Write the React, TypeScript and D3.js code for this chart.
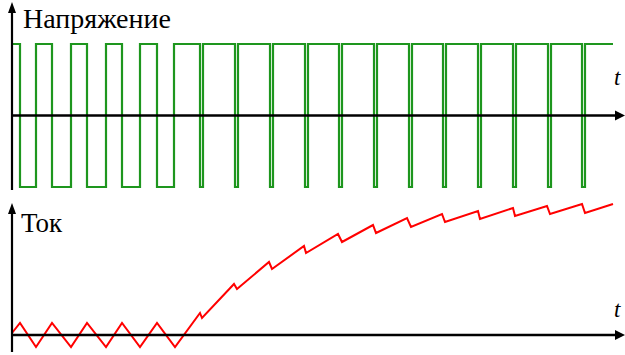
import React, { useEffect, useState } from "react";
import * as d3 from "d3";

// Voltage: square-wave switching times (arbitrary time units) and levels (+1 / -1)
const voltageTimes = [0, 8, 24, 40, 59, 75, 94, 110, 128, 145, 162, 188, 191, 223, 226, 258, 261, 293, 296, 327, 330, 362, 365, 397, 400, 431, 434, 466, 469, 501, 504, 536, 539, 570, 573, 601];
const voltageLevels = [1, -1, 1, -1, 1, -1, 1, -1, 1, -1, 1, -1, 1, -1, 1, -1, 1, -1, 1, -1, 1, -1, 1, -1, 1, -1, 1, -1, 1, -1, 1, -1, 1, -1, 1, 1];

// Current: piecewise-linear samples
const currentTimes = [0, 8, 24, 40, 59, 75, 94, 110, 128, 145, 163, 188, 190, 222, 225, 257, 260, 292, 294, 326, 330, 361, 364, 395, 399, 430, 433, 466, 468, 501, 503, 535, 538, 570, 573, 601];
const currentValues = [2, 12, -12, 12, -12, 12, -12, 12, -12, 12, -12, 22, 17, 51, 46, 73, 66, 89, 82, 101, 93, 110, 102, 117, 108, 121, 113, 124, 116, 127, 119, 129, 121, 131, 122, 131];

const titles = ["Напряжение", "Ток"];
const axisLabel = "t";

const serif = `"Liberation Serif", "Times New Roman", Tinos, "DejaVu Serif", serif`;

export default function App() {
  const [ver, setVer] = useState(0);
  useEffect(() => {
    const fs: any = (document as any).fonts;
    if (fs && fs.load) {
      Promise.all([
        fs.load(`28px "Liberation Serif"`, "Напряжение Ток"),
        fs.load(`italic 23px "Liberation Serif"`, "t"),
      ]).then(() => setVer(v => v + 1)).catch(() => setVer(v => v + 1));
    }
  }, []);

  const W = 625, H = 355;
  const x = d3.scaleLinear().domain([0, 613]).range([12, 625]);
  const yV = d3.scaleLinear().domain([-1, 1]).range([187, 44]);
  const yI = d3.scaleLinear().domain([-15, 132]).range([350, 203]);

  const vData = voltageTimes.map((t, i) => [t, voltageLevels[i]] as [number, number]);
  const iData = currentTimes.map((t, i) => [t, currentValues[i]] as [number, number]);

  const vLine = d3.line<[number, number]>().x(d => x(d[0])).y(d => yV(d[1])).curve(d3.curveStepAfter);
  const iLine = d3.line<[number, number]>().x(d => x(d[0])).y(d => yI(d[1]));

  const axisX0 = x(0);
  const yV0 = yV(0);
  const yI0 = yI(0);

  const t1Style = { fontFamily: serif, fontSize: "28px" };
  const t2Style = { fontFamily: serif, fontSize: "27px" };
  const tStyle = { fontFamily: serif, fontSize: "23px", fontStyle: "italic" as const };

  return (
    <div style={{ position: "absolute", left: 0, top: 0 }}>
      <svg key={ver} width={W} height={H} style={{ display: "block", background: "#fff" }}>
        {/* top panel */}
        <path d={vLine(vData) || ""} fill="none" stroke="#1e961e" strokeWidth={2.2} />
        <line x1={axisX0} y1={yV0} x2={616} y2={yV0} stroke="#000" strokeWidth={2.5} />
        <path d={`M625,${yV0} L615,${yV0 - 5} L615,${yV0 + 5} Z`} fill="#000" />
        <line x1={axisX0} y1={190} x2={axisX0} y2={10} stroke="#000" strokeWidth={2.2} />
        <path d={`M${axisX0},2 L${axisX0 - 4},13 L${axisX0 + 4},13 Z`} fill="#000" />
        <text x={23} y={28} style={t1Style} fill="#000">{titles[0]}</text>
        <text x={614} y={85} style={tStyle} fill="#000">{axisLabel}</text>

        {/* bottom panel */}
        <path d={iLine(iData) || ""} fill="none" stroke="#ff0000" strokeWidth={2} />
        <line x1={axisX0} y1={yI0} x2={616} y2={yI0} stroke="#000" strokeWidth={2.5} />
        <path d={`M625,${yI0} L615,${yI0 - 5} L615,${yI0 + 5} Z`} fill="#000" />
        <line x1={axisX0} y1={352} x2={axisX0} y2={211} stroke="#000" strokeWidth={2.2} />
        <path d={`M${axisX0},203 L${axisX0 - 4},214 L${axisX0 + 4},214 Z`} fill="#000" />
        <text x={21} y={232} style={t2Style} fill="#000">{titles[1]}</text>
        <text x={614} y={317} style={tStyle} fill="#000">{axisLabel}</text>
      </svg>
    </div>
  );
}
